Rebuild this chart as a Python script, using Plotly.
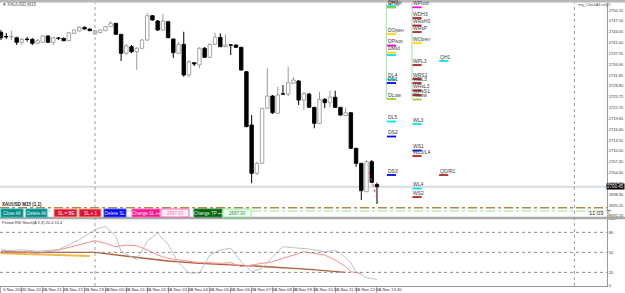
import plotly.graph_objects as go

# ---------------- data ----------------
candle_open = [
    2743.93, 2742.75, 2742.64, 2742.41, 2741.12, 2741.99, 2741.96, 2740.84, 2741.12, 2742.89,
    2741.12, 2742.27, 2742.24, 2741.57, 2743.65, 2744.30, 2745.34, 2744.86, 2743.45, 2743.82,
    2744.38, 2745.51, 2746.47, 2743.37, 2738.02, 2739.88, 2738.47, 2739.43, 2741.76, 2748.61,
    2747.12, 2744.58, 2746.92, 2742.05, 2738.02, 2740.55, 2731.91, 2735.37, 2734.72, 2739.43,
    2736.89, 2740.55, 2742.53, 2739.88, 2740.41, 2740.36, 2739.71, 2732.84, 2717.83, 2704.22,
    2707.04, 2722.53, 2725.99, 2721.12, 2726.61, 2726.56, 2729.57, 2730.22, 2724.87, 2726.56,
    2722.81, 2718.31, 2725.06, 2724.11, 2725.63, 2722.81, 2720.45, 2721.29, 2711.26, 2707.04,
    2699.04, 2707.49, 2701.07]
candle_high = [
    2744.58, 2743.74, 2744.38, 2742.69, 2742.33, 2742.61, 2742.33, 2742.05, 2743.17, 2743.17,
    2742.61, 2742.61, 2742.47, 2744.02, 2744.72, 2745.57, 2745.57, 2745.00, 2744.58, 2744.72,
    2745.71, 2747.12, 2746.55, 2743.45, 2740.64, 2740.36, 2739.79, 2742.05, 2749.28, 2748.81,
    2747.40, 2749.09, 2747.12, 2742.19, 2741.20, 2744.10, 2736.13, 2735.57, 2739.79, 2739.79,
    2740.92, 2743.82, 2743.65, 2743.37, 2740.64, 2740.50, 2739.79, 2733.03, 2720.64, 2707.41,
    2722.61, 2733.79, 2726.28, 2728.61, 2729.09, 2734.25, 2731.43, 2730.50, 2727.12, 2726.84,
    2722.90, 2727.21, 2725.43, 2727.49, 2727.49, 2722.90, 2722.81, 2721.49, 2711.35, 2707.12,
    2707.97, 2707.97, 2701.63]
candle_low = [
    2741.76, 2742.05, 2741.76, 2740.36, 2740.36, 2741.29, 2740.36, 2740.64, 2740.92, 2740.92,
    2740.36, 2741.76, 2741.48, 2741.48, 2743.45, 2744.16, 2744.72, 2744.30, 2743.31, 2743.74,
    2744.30, 2745.43, 2743.26, 2735.85, 2737.54, 2738.10, 2733.32, 2739.23, 2741.48, 2747.26,
    2744.30, 2744.30, 2742.33, 2736.70, 2737.82, 2731.43, 2731.26, 2734.44, 2733.79, 2736.70,
    2736.70, 2740.36, 2739.79, 2739.79, 2737.54, 2739.51, 2733.18, 2717.26, 2701.41, 2703.75,
    2706.84, 2722.33, 2720.92, 2720.92, 2726.28, 2725.99, 2729.37, 2723.46, 2722.05, 2722.61,
    2716.90, 2718.11, 2722.61, 2722.81, 2722.61, 2720.36, 2720.36, 2711.07, 2706.08, 2696.70,
    2698.96, 2701.49, 2695.58]
candle_close = [
    2742.41, 2742.64, 2742.75, 2741.12, 2741.96, 2741.91, 2740.84, 2741.57, 2742.89, 2741.12,
    2742.41, 2742.22, 2741.57, 2743.82, 2744.58, 2745.34, 2744.86, 2744.38, 2744.38, 2744.58,
    2745.51, 2746.47, 2743.37, 2738.02, 2740.16, 2738.47, 2739.43, 2741.76, 2748.61, 2747.40,
    2744.58, 2747.12, 2742.41, 2738.19, 2740.55, 2731.91, 2735.65, 2735.01, 2739.43, 2736.89,
    2740.55, 2742.53, 2739.88, 2740.36, 2740.30, 2739.71, 2733.32, 2717.35, 2704.22, 2707.04,
    2722.53, 2725.99, 2721.29, 2726.28, 2726.50, 2729.74, 2730.50, 2724.87, 2726.75, 2722.81,
    2718.31, 2725.06, 2724.11, 2725.63, 2722.81, 2720.64, 2721.29, 2711.26, 2707.04, 2699.32,
    2707.49, 2701.69, 2700.45]

time_label_index = list(range(0, 73, 4))
time_labels = ["5 Nov 2024", "5 Nov 20:30", "5 Nov 21:30", "5 Nov 22:30", "5 Nov 23:30",
               "6 Nov 00:30", "6 Nov 01:30", "6 Nov 02:30", "6 Nov 03:30", "6 Nov 04:30",
               "6 Nov 05:30", "6 Nov 06:30", "6 Nov 07:30", "6 Nov 08:30", "6 Nov 09:30",
               "6 Nov 10:30", "6 Nov 11:30", "6 Nov 12:30", "6 Nov 13:30"]

price_ticks = [2692.20, 2695.25, 2698.30, 2701.35, 2704.40, 2707.45, 2710.50, 2713.55,
               2716.60, 2719.65, 2722.70, 2725.75, 2728.80, 2731.85, 2734.90, 2737.95,
               2741.00, 2744.05, 2747.10, 2750.15]
current_price = 2700.45
tp_line_price = 2694.54
sl_line_price = 2693.61
button_price = "2697.93"
day_separator_index = [18, 109.8]

osc_ticks = [0, 20, 50, 80, 100]
osc_levels = [20, 50, 80]

gray_x = [0, 4, 7, 11, 15, 18, 20, 22, 23, 26, 28, 30, 32, 34, 36, 38, 40, 42, 44, 46, 48, 50,
          52, 54, 56, 59, 62, 64, 65, 67, 68, 70, 72]
gray_y = [51.5, 54, 51.5, 54, 69, 84, 89, 74, 51.5, 39, 66.5, 79, 61.5, 34, 19, 19, 46, 53.5, 56,
          36, 21, 26, 43.5, 58.5, 57, 55, 51, 52.5, 49, 34, 21, 12, 9.5]
pink_x = [0, 4, 7, 11, 15, 18, 20, 22, 24, 26, 28, 30, 32, 34, 36, 38, 40, 42, 44, 46, 48, 50,
          52, 54, 56, 58, 60, 62, 64, 66, 67, 69]
pink_y = [53.5, 51, 48.5, 53.5, 61, 67.5, 63.5, 58.5, 61, 60, 53.5, 46, 41, 38.5, 36, 34.5, 34.5,
          33.5, 34.5, 28.5, 31, 33.5, 36, 41, 46, 51, 48.5, 46, 38.5, 28.5, 21, 18.5]
brown_x = [0, 4, 8, 11, 18, 25, 32, 38, 45, 51, 59, 62, 66]
brown_y = [51, 50, 50, 50, 50, 43.5, 37, 33.5, 31, 28.5, 24.5, 22.5, 20]
gold_x = [0, 8, 17]
gold_y = [48.5, 47, 44.5]

d_names = ["QH3", "DHigh", "DOpen", "DPivot", "DMid", "", "DL4", "DS1", "DLow", "DL5", "DS2", "DS3"]
d_prices = [2751.30, 2750.92, 2743.45, 2740.22, 2738.19, 2737.54, 2730.64, 2729.65, 2725.15,
            2718.81, 2714.59, 2703.75]
w_names = ["WPivot", "WDH3", "WRsH0", "WRsP", "WOpen", "WPL3", "WRS1", "WDL3", "WRsL3", "WRsS1",
           "WLow", "WL3", "WS1", "WL3/L4", "WL4", "WS2"]
w_prices = [2750.97, 2747.96, 2745.85, 2744.02, 2740.92, 2734.72, 2730.78, 2729.65, 2727.54,
            2726.28, 2725.01, 2718.11, 2710.64, 2709.10, 2699.94, 2697.55]
q_names = ["QH1", "QD/R1"]
q_prices = [2735.85, 2703.75]

button_labels = ["Close All", "Delete All", "SL = BE", "SL + 1", "Delete SL", "Change SL ++",
                 button_price, "Change TP ++", button_price]

# ---------------- styles ----------------
W, H = 625, 293
CY = "#00e5ee"; BL = "#0000ff"; RD = "#b22222"; GD = "#ffd700"; MG = "#ff00ff"; YG = "#9acd32"
d_colors = [CY, YG, GD, MG, GD, CY, CY, BL, YG, CY, BL, BL]
w_colors = [MG, RD, RD, RD, GD, RD, RD, RD, RD, RD, YG, CY, BL, RD, CY, RD]
q_colors = [CY, RD]
button_px = [(1, 23), (26, 47), (54, 77), (79, 101), (104, 126), (132, 160), (161, 189),
             (194, 222), (223, 251)]
button_fill = ["#008b8b", "#008b8b", "#dc143c", "#dc143c", "#0000ff", "#ff1493", "#fff0f5",
               "#006400", "#f0fff0"]
button_edge = ["#20b2aa", "#20b2aa", "#ffa07a", "#ffa07a", "#4169e1", "#ff69b4", "#ff69b4",
               "#2e8b57", "#90ee90"]
button_font = ["#f4f4f4"] * 6 + ["#ff69b4"] + ["#f4f4f4"] + ["#2e8b57"]

FONT = "Liberation Sans, Arial, sans-serif"
X_END = 607 / W
X_RANGE = [-0.19, 116.05]
Y_RANGE = [2691.92, 2752.19]


def py(px):
    return 1 - px / H


def pxx(px):
    return px / W


fig = go.Figure()

n = len(candle_open)
bull = [candle_close[i] >= candle_open[i] for i in range(n)]

# wicks (drawn outside bodies)
for kind, col in ((True, "#9a9a9a"), (False, "#000000")):
    wx, wy = [], []
    for i in range(n):
        if bull[i] != kind:
            continue
        top = max(candle_open[i], candle_close[i])
        bot = min(candle_open[i], candle_close[i])
        wx += [i, i, None, i, i, None]
        wy += [candle_high[i], top, None, bot, candle_low[i], None]
    fig.add_trace(go.Scatter(x=wx, y=wy, mode="lines", line=dict(color=col, width=1),
                             xaxis="x", yaxis="y", hoverinfo="skip"))

# bodies
for kind, fill, edge in ((True, "#ffffff", "#9a9a9a"), (False, "#000000", "#000000")):
    bx, bb, bh = [], [], []
    for i in range(n):
        if bull[i] != kind:
            continue
        lo = min(candle_open[i], candle_close[i])
        hi = max(candle_open[i], candle_close[i])
        bx.append(i); bb.append(lo); bh.append(max(hi - lo, 0.12))
    fig.add_trace(go.Bar(x=bx, y=bh, base=bb, width=0.66, xaxis="x", yaxis="y",
                         marker=dict(color=fill, line=dict(color=edge, width=0.9)),
                         hoverinfo="skip"))

# oscillator
fig.add_trace(go.Scatter(x=gold_x, y=gold_y, mode="lines", line=dict(color="#f2b84b", width=2),
                         xaxis="x2", yaxis="y2"))
fig.add_trace(go.Scatter(x=brown_x, y=brown_y, mode="lines", line=dict(color="#b0603a", width=1.4),
                         xaxis="x2", yaxis="y2"))
fig.add_trace(go.Scatter(x=pink_x, y=pink_y, mode="lines", line=dict(color="#ff8a8a", width=1),
                         xaxis="x2", yaxis="y2"))
fig.add_trace(go.Scatter(x=gray_x, y=gray_y, mode="lines", line=dict(color="#b8c2cc", width=1),
                         xaxis="x2", yaxis="y2"))

shapes = []
ann = []


def txt(x, y, text, size, color, xanchor="left", yanchor="middle", xref="paper", yref="paper",
        **kw):
    d = dict(x=x, y=y, xref=xref, yref=yref, text=text, showarrow=False, xanchor=xanchor,
             yanchor=yanchor, borderpad=0, font=dict(size=size, color=color, family=FONT))
    d.update(kw)
    ann.append(d)


# frame pieces
shapes.append(dict(type="rect", xref="paper", yref="paper", x0=0, x1=1, y0=py(2.5), y1=1,
                   fillcolor="#b8b8b8", line=dict(width=0), layer="above"))
shapes.append(dict(type="rect", xref="paper", yref="paper", x0=0, x1=1, y0=py(219.3), y1=py(216.8),
                   fillcolor="#a9a9a9", line=dict(width=0), layer="above"))

# current price line
shapes.append(dict(type="line", xref="paper", yref="y", x0=0, x1=X_END, y0=current_price,
                   y1=current_price, line=dict(color="#d6dce2", width=2), layer="below"))
# period separators
for xs in day_separator_index:
    shapes.append(dict(type="line", xref="x", yref="paper", x0=xs, x1=xs, y0=py(286), y1=py(3),
                       line=dict(color="#9c9c9c", width=1, dash="dot")))
# TP/SL lines
shapes.append(dict(type="line", xref="paper", yref="y", x0=0, x1=X_END, y0=sl_line_price,
                   y1=sl_line_price, line=dict(color="#98e598", width=1, dash="dashdot")))
shapes.append(dict(type="line", xref="paper", yref="y", x0=0, x1=X_END, y0=tp_line_price,
                   y1=tp_line_price, line=dict(color="#b8864b", width=1.6, dash="dashdot")))
# trend dotted line on last candles
shapes.append(dict(type="line", xref="x", yref="y", x0=70.5, x1=72.2, y0=candle_high[70] - 3.4,
                   y1=candle_low[72] + 0.6, line=dict(color="#ff3030", width=1, dash="dot")))

# oscillator levels
for lv in osc_levels:
    shapes.append(dict(type="line", xref="paper", yref="y2", x0=0, x1=X_END, y0=lv, y1=lv,
                       line=dict(color="#8c8c8c", width=1, dash="dot")))

# pivot columns
col_x = {"D": 73.9, "W": 78.8, "Q": 83.9}
for cx in (col_x["D"] - 0.1, col_x["W"] - 0.1):
    shapes.append(dict(type="line", xref="x", yref="y", x0=cx, x1=cx, y0=d_prices[8],
                       y1=Y_RANGE[1], line=dict(color="#a6dca6", width=1)))


def add_levels(names, prices, colors, cx):
    for nm, pr, colr in zip(names, prices, colors):
        shapes.append(dict(type="line", xref="x", yref="y", x0=cx, x1=cx + 1.75, y0=pr, y1=pr,
                           line=dict(color=colr, width=1.8)))
        if nm:
            txt(cx, pr, nm, 5, "#3c3c3c", xanchor="left", yanchor="bottom", xref="x", yref="y",
                yshift=0.5)


add_levels(d_names, d_prices, d_colors, col_x["D"])
add_levels(w_names, w_prices, w_colors, col_x["W"])
add_levels(q_names, q_prices, q_colors, col_x["Q"])

# buttons
for lab, (a, b), fc, ec, tc in zip(button_labels, button_px, button_fill, button_edge, button_font):
    shapes.append(dict(type="rect", xref="paper", yref="paper", x0=pxx(a), x1=pxx(b),
                       y0=py(217), y1=py(209), fillcolor=fc, line=dict(color=ec, width=1),
                       layer="above"))
    txt(pxx((a + b) / 2), py(213), lab, 4.5, tc, xanchor="center")

# texts
txt(pxx(2), py(4.8), "▾ XAUUSD,M15", 4.5, "#555")
txt(pxx(577), py(4.8), "mq_ClockAll-txt(2)", 4, "#555")
txt(pxx(1), py(204.5), "<b>XAUUSD M15 (1,1)</b>", 4.5, "#222")
txt(pxx(588), py(213.2), "11:03 ⌛", 6, "#333")
txt(pxx(1), py(222.5), "Period RSI Stoch(A 3,3) 20.4 15.4", 4, "#333")
txt(1, current_price, f"{current_price:.2f}", 4.5, "white", xanchor="right", yref="y",
    bgcolor="#000000")
for ti, tl in zip(time_label_index, time_labels):
    txt(ti, py(289.5), tl, 4.2, "#333", xref="x2", xshift=1)

fig.update_layout(
    width=W, height=H, margin=dict(l=0, r=0, t=0, b=0),
    paper_bgcolor="white", plot_bgcolor="white",
    showlegend=False, hovermode=False, barmode="overlay", template="none",
    shapes=shapes, annotations=ann,
    xaxis=dict(domain=[0, X_END], range=X_RANGE, showticklabels=False, showgrid=False,
               zeroline=False, anchor="y", showline=False, ticks=""),
    yaxis=dict(domain=[py(217), py(3)], range=Y_RANGE, side="right", anchor="x",
               tickvals=price_ticks, ticktext=[f"{v:.2f}" for v in price_ticks],
               tickfont=dict(size=4, color="#333", family=FONT), ticks="",
               showgrid=False, zeroline=False, showline=True,
               linecolor="#9a9a9a", linewidth=1, automargin=False),
    xaxis2=dict(domain=[0, X_END], range=X_RANGE, showticklabels=False, showgrid=False,
                zeroline=False, anchor="y2", showline=True, linecolor="#9a9a9a",
                tickvals=time_label_index, ticks="outside", ticklen=6, tickcolor="#aaa",
                automargin=False),
    yaxis2=dict(domain=[py(285.7), py(219)], range=[0, 100], side="right", anchor="x2",
                tickvals=osc_ticks, ticktext=[str(v) for v in osc_ticks],
                tickfont=dict(size=4, color="#333", family=FONT), ticks="",
                showgrid=False, zeroline=False, showline=True,
                linecolor="#9a9a9a", linewidth=1, automargin=False),
)

fig.write_html("out.html")
